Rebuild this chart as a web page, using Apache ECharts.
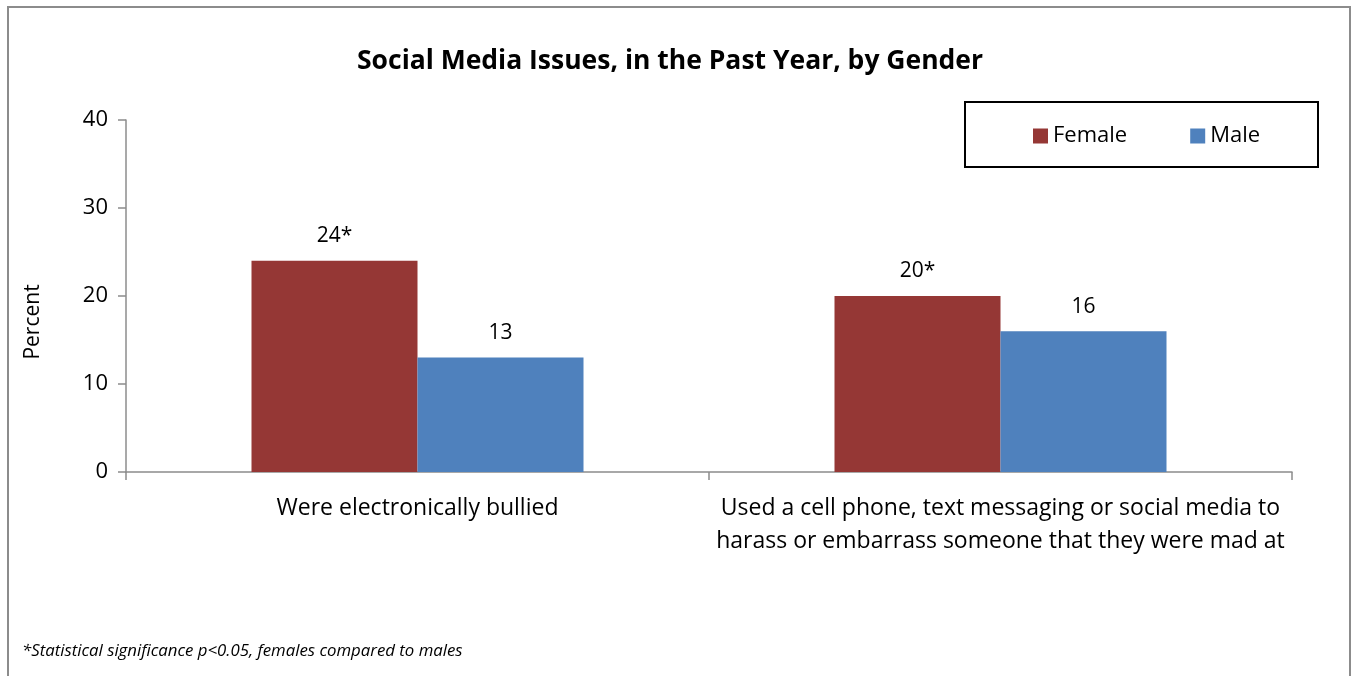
<!DOCTYPE html>
<html>
<head>
<meta charset="utf-8">
<script src="https://cdn.jsdelivr.net/npm/echarts@6/dist/echarts.min.js"></script>
<style>
  html, body { margin: 0; padding: 0; background: #fff; }
  #chart { width: 1356px; height: 676px; }
</style>
</head>
<body>
<div id="chart"></div>
<script>
// Survey categories and percentages by gender
const categories = [
  'Were electronically bullied',
  'Used a cell phone, text messaging or social media to\nharass or embarrass someone that they were mad at'
];
const seriesNames = ['Female', 'Male'];
const femaleValues = [24, 20];
const maleValues = [13, 16];
// Significance marker appended to the female value labels
const femaleMarks = ['*', '*'];
const yTicks = [0, 10, 20, 30, 40];

const FONT = '"Open Sans", sans-serif';
const chart = echarts.init(document.getElementById('chart'));

const labelStyle = {
  show: true,
  position: 'top',
  distance: 14,
  color: '#000',
  fontSize: 21,
  fontFamily: FONT
};

chart.setOption({
  animation: false,
  title: {
    text: 'Social Media Issues, in the Past Year, by Gender',
    left: 352,
    top: 43,
    textStyle: { fontSize: 26.5, fontWeight: 'bold', color: '#000', fontFamily: FONT }
  },
  legend: {
    data: seriesNames,
    left: 1028,
    top: 120,
    itemWidth: 15,
    itemHeight: 15,
    itemGap: 63,
    icon: 'rect',
    textStyle: { fontSize: 22, color: '#000', fontFamily: FONT, padding: [0, 0, 0, 0] }
  },
  grid: { left: 126, right: 64, top: 120, bottom: 204, containLabel: false },
  xAxis: {
    type: 'category',
    data: categories,
    axisLine: { lineStyle: { color: '#8c8c8c', width: 1.5 } },
    axisTick: { show: true, length: 8, alignWithLabel: false, lineStyle: { color: '#8c8c8c', width: 1.5 } },
    axisLabel: { color: '#000', fontSize: 23, fontFamily: FONT, margin: 20, lineHeight: 33, interval: 0 }
  },
  yAxis: {
    type: 'value',
    min: yTicks[0],
    max: yTicks[yTicks.length - 1],
    interval: 10,
    splitLine: { show: false },
    axisLine: { show: true, lineStyle: { color: '#8c8c8c', width: 1.5 } },
    axisTick: { show: true, length: 8, lineStyle: { color: '#8c8c8c', width: 1.5 } },
    axisLabel: { color: '#000', fontSize: 22, fontFamily: FONT, margin: 18 }
  },
  series: [
    {
      name: seriesNames[0],
      type: 'bar',
      data: femaleValues,
      barWidth: 166,
      barGap: '0%',
      itemStyle: { color: '#953735' },
      label: Object.assign({}, labelStyle, {
        formatter: p => p.value + femaleMarks[p.dataIndex]
      })
    },
    {
      name: seriesNames[1],
      type: 'bar',
      data: maleValues,
      barWidth: 166,
      barGap: '0%',
      itemStyle: { color: '#4F81BD' },
      label: Object.assign({}, labelStyle, { formatter: p => String(p.value) })
    }
  ],
  graphic: [
    {
      type: 'rect',
      shape: { x: 8, y: 7, width: 1342, height: 680 },
      style: { fill: 'none', stroke: '#8c8c8c', lineWidth: 2 },
      silent: true, z: -1
    },
    {
      type: 'rect',
      shape: { x: 965, y: 102, width: 353, height: 65 },
      style: { fill: 'none', stroke: '#000', lineWidth: 2 },
      silent: true
    },
    {
      type: 'text',
      x: 33, y: 322,
      rotation: Math.PI / 2,
      style: {
        text: 'Percent', fill: '#000', fontSize: 21, fontFamily: FONT,
        align: 'center', verticalAlign: 'middle'
      }
    },
    {
      type: 'text',
      left: 22, top: 643,
      style: {
        text: '*Statistical significance p<0.05, females compared to males',
        fill: '#000', fontSize: 16.8, fontStyle: 'italic', fontFamily: FONT
      }
    }
  ]
});
</script>
</body>
</html>
